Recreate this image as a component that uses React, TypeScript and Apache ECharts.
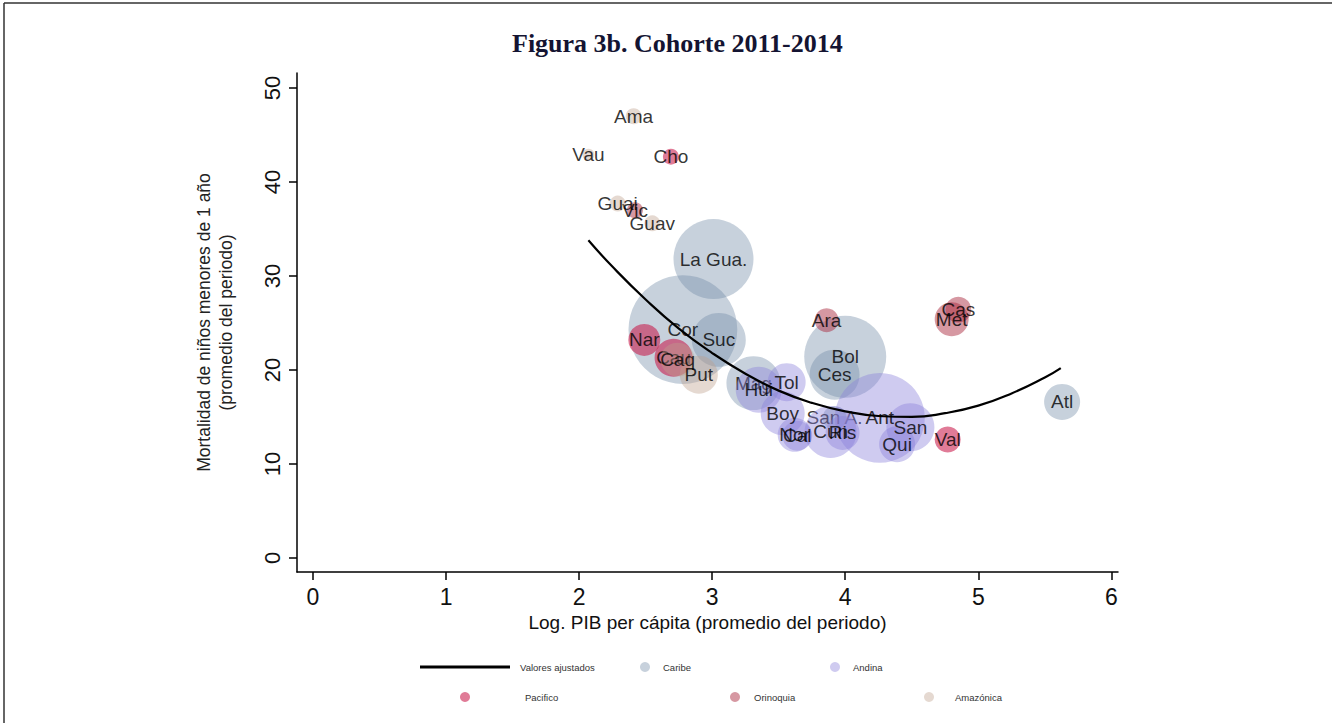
import React, { useEffect, useRef } from "react";
import * as echarts from "echarts";

// ---- Data ----
const caribeNames = ["La Gua.", "Cor", "Suc", "Bol", "Ces", "Mag", "Atl", "San A."];
const caribeX = [3.01, 2.78, 3.05, 4.0, 3.92, 3.31, 5.63, 3.92];
const caribeY = [31.8, 24.3, 23.2, 21.4, 19.5, 18.6, 16.6, 14.9];
const caribePeso = [400, 740, 182, 420, 156, 182, 81, 36];

const andinaNames = ["Ant", "Boy", "Cal", "Nor", "Cun", "Ris", "Hui", "Qui", "San", "Tol"];
const andinaX = [4.26, 3.53, 3.64, 3.62, 3.89, 3.98, 3.35, 4.39, 4.49, 3.56];
const andinaY = [14.9, 15.4, 13.0, 13.1, 13.4, 13.3, 17.9, 12.1, 13.9, 18.7];
const andinaPeso = [506, 121, 56, 72, 169, 72, 132, 81, 144, 90];

const pacificoNames = ["Cho", "Nar", "Cau", "Val"];
const pacificoX = [2.69, 2.49, 2.71, 4.77];
const pacificoY = [42.7, 23.2, 21.3, 12.6];
const pacificoPeso = [16, 64, 90, 42];

const orinoquiaNames = ["Ara", "Cas", "Met", "Vic"];
const orinoquiaX = [3.86, 4.85, 4.8, 2.42];
const orinoquiaY = [25.3, 26.4, 25.4, 37.0];
const orinoquiaPeso = [36, 42, 72, 16];

const amazonicaNames = ["Ama", "Vau", "Guai", "Guav", "Caq", "Put"];
const amazonicaX = [2.41, 2.07, 2.29, 2.55, 2.74, 2.9];
const amazonicaY = [47.0, 42.9, 37.7, 35.6, 21.1, 19.5];
const amazonicaPeso = [16, 9, 16, 16, 72, 90];

// Fitted values
const ajusteX = [2.07, 2.25, 2.5, 2.75, 3.0, 3.25, 3.5, 3.75, 4.0, 4.25, 4.5, 4.75, 5.0, 5.25, 5.5, 5.62];
const ajusteY = [33.8, 31.0, 27.5, 24.4, 21.8, 19.6, 17.8, 16.5, 15.6, 15.1, 15.0, 15.4, 16.2, 17.5, 19.2, 20.2];

const xTicks = [0, 1, 2, 3, 4, 5, 6];
const yTicks = [0, 10, 20, 30, 40, 50];

const SANS = "'Liberation Sans', Arial, Helvetica, sans-serif";

function build(names: string[], xs: number[], ys: number[], ps: number[]) {
  return names.map((n, i) => ({ name: n, value: [xs[i], ys[i], ps[i]] }));
}

const groups = [
  { name: "Caribe", color: "rgba(115,140,168,0.5)", data: build(caribeNames, caribeX, caribeY, caribePeso) },
  { name: "Andina", color: "rgba(140,130,220,0.52)", data: build(andinaNames, andinaX, andinaY, andinaPeso) },
  { name: "Pacifico", color: "rgba(200,20,70,0.7)", data: build(pacificoNames, pacificoX, pacificoY, pacificoPeso) },
  { name: "Orinoquia", color: "rgba(170,40,60,0.6)", data: build(orinoquiaNames, orinoquiaX, orinoquiaY, orinoquiaPeso) },
  { name: "Amazónica", color: "rgba(190,160,140,0.5)", data: build(amazonicaNames, amazonicaX, amazonicaY, amazonicaPeso) },
];

export default function App() {
  const ref = useRef<HTMLDivElement>(null);
  useEffect(() => {
    if (!ref.current) return;
    const chart = echarts.init(ref.current, null, { renderer: "svg" });

    const series: any[] = [];
    groups.forEach((g, i) => {
      // bubbles
      series.push({
        type: "scatter",
        name: g.name,
        z: 2 + i * 2,
        data: g.data,
        symbolSize: (v: number[]) => 4 * Math.sqrt(v[2]),
        itemStyle: { color: g.color },
        label: { show: false },
        emphasis: { disabled: true },
      });
      // labels, drawn right after this region's bubbles (later regions may cover them)
      series.push({
        type: "scatter",
        name: g.name + " (etiquetas)",
        z: 3 + i * 2,
        data: g.data,
        symbolSize: 0,
        itemStyle: { color: "transparent" },
        label: {
          show: true,
          position: "inside",
          formatter: (p: any) => p.name,
          color: "#000",
          fontSize: 19,
          fontFamily: SANS,
          textBorderWidth: 0,
          textBorderColor: "transparent",
        },
        emphasis: { disabled: true },
      });
    });

    const legendText = { fontSize: 9.5, color: "#333", fontFamily: SANS };
    const mkLegend = (name: string, left: number, top: number, pad: number, icon = "circle", w = 10, h = 10) => ({
      data: [name],
      left,
      top,
      padding: 0,
      icon,
      itemWidth: w,
      itemHeight: h,
      selectedMode: false,
      textStyle: { ...legendText, padding: [0, 0, 0, pad] },
    });

    chart.setOption({
      animation: false,
      backgroundColor: "#fff",
      title: {
        text: "Figura 3b. Cohorte 2011-2014",
        left: 512,
        top: 30,
        padding: 0,
        textStyle: { fontFamily: "'Liberation Serif', 'Times New Roman', serif", fontWeight: "bold", fontSize: 26, color: "#141432" },
      },
      legend: [
        mkLegend("Valores ajustados", 420, 662, 5, "rect", 90, 3),
        mkLegend("Caribe", 640, 662, 8),
        mkLegend("Andina", 830, 662, 8),
        mkLegend("Pacifico", 460, 692, 50),
        mkLegend("Orinoquia", 730, 692, 9),
        mkLegend("Amazónica", 924, 692, 16),
      ],
      grid: { left: 297, top: 73, width: 821, height: 499, containLabel: false },
      xAxis: {
        type: "value",
        min: -0.12,
        max: 6.05,
        name: "Log. PIB per cápita (promedio del periodo)",
        nameLocation: "middle",
        nameGap: 40,
        nameTextStyle: { fontFamily: SANS, fontSize: 19, color: "#111", verticalAlign: "top" },
        splitLine: { show: false },
        axisLine: { show: true, onZero: false, lineStyle: { color: "#000", width: 1.5 } },
        axisTick: { show: true, length: 8, lineStyle: { color: "#000", width: 1.5 }, customValues: xTicks },
        axisLabel: { customValues: xTicks, fontFamily: SANS, fontSize: 23, color: "#111", margin: 13 },
      },
      yAxis: {
        type: "value",
        min: -1.5,
        max: 51.6,
        name: "Mortalidad de niños menores de 1 año\n(promedio del periodo)",
        nameLocation: "middle",
        nameRotate: 90,
        nameGap: 60,
        nameTextStyle: { fontFamily: SANS, fontSize: 17.5, color: "#222", lineHeight: 22, align: "center" },
        splitLine: { show: false },
        axisLine: { show: true, onZero: false, lineStyle: { color: "#000", width: 1.5 } },
        axisTick: { show: true, length: 8, lineStyle: { color: "#000", width: 1.5 }, customValues: yTicks },
        axisLabel: { customValues: yTicks, rotate: 90, fontFamily: SANS, fontSize: 22, color: "#111", margin: 14 },
      },
      graphic: [
        { type: "line", shape: { x1: 4, y1: 3, x2: 4, y2: 723 }, style: { stroke: "#333", lineWidth: 1.5 } },
        { type: "line", shape: { x1: 4, y1: 3, x2: 1332, y2: 3 }, style: { stroke: "#333", lineWidth: 1.5 } },
      ],
      series: [
        ...series,
        {
          type: "line",
          name: "Valores ajustados",
          z: 20,
          data: ajusteX.map((x, i) => [x, ajusteY[i]]),
          smooth: true,
          showSymbol: false,
          lineStyle: { color: "#000", width: 2.2 },
          itemStyle: { color: "#000" },
          emphasis: { disabled: true },
        },
      ],
    } as any);
    return () => chart.dispose();
  }, []);
  return <div ref={ref} style={{ position: "absolute", left: 0, top: 0, width: 1332, height: 723 }} />;
}
